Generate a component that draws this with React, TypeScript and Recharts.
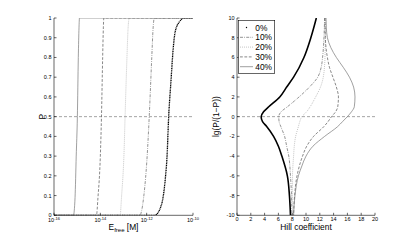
import { Legend, Line, LineChart, ReferenceLine, XAxis, YAxis } from 'recharts'

const FONT = '"Liberation Sans", Arial, Helvetica, sans-serif'
const TICK_LEN = 2.5
const TICK_FONT = 5.5
const LABEL_FONT = 8.4

const seriesNames = ['0%', '10%', '20%', '30%', '40%']

// left panel: fraction P against free enzyme concentration [M]
const eFree0 = [1e-16, 2.24e-12, 3.16e-12, 3.98e-12, 5.01e-12, 6.31e-12, 7.59e-12, 8.91e-12, 1.12e-11, 1.41e-11, 1.7e-11, 2.57e-11, 4.27e-11, 1e-10]
const p0 = [0, 0, 0.015, 0.04, 0.085, 0.18, 0.3, 0.5, 0.68, 0.85, 0.93, 0.98, 1, 1]
const eFree10 = [1e-16, 5e-13, 7.4e-13, 1.1e-12, 1.29e-12, 1.66e-12, 1.9e-12, 2.14e-12, 1e-10]
const p10 = [0, 0, 0.09, 0.34, 0.5, 0.8, 0.95, 1, 1]
const eFree20 = [1e-16, 7.1e-14, 8.3e-14, 1.07e-13, 1.17e-13, 1.41e-13, 1.58e-13, 1.78e-13, 1e-10]
const p20 = [0, 0, 0.1, 0.34, 0.5, 0.8, 0.95, 1, 1]
const eFree30 = [1e-16, 6.8e-15, 7.9e-15, 1e-14, 1.12e-14, 1.26e-14, 1.35e-14, 1.41e-14, 1e-10]
const p30 = [0, 0, 0.09, 0.3, 0.5, 0.8, 0.95, 1, 1]
const eFree40 = [1e-16, 6.9e-16, 8.1e-16, 9.1e-16, 1.02e-15, 1.12e-15, 1.2e-15, 1.26e-15, 1e-10]
const p40 = [0, 0, 0.09, 0.3, 0.5, 0.8, 0.95, 1, 1]

const eTicks = [1e-16, 1e-14, 1e-12, 1e-10]
const pTicks = [0, 0.1, 0.2, 0.3, 0.4, 0.5, 0.6, 0.7, 0.8, 0.9, 1]

// right panel: Hill coefficient against lg(P/(1-P))
const lg0 = [10, 8, 6, 4, 3, 2, 1, 0.5, 0, -0.5, -1, -2, -3, -4, -6, -8, -10]
const hill0 = [11.5, 10.7, 9.7, 8.2, 7.2, 6.2, 4.6, 3.85, 3.5, 3.7, 4.3, 5.3, 6.0, 6.5, 7.3, 7.6, 7.75]
const lg10 = [10, 8, 6, 5, 4, 3, 2, 1, 0.5, 0, -0.5, -1, -2, -3, -4, -6, -8, -10]
const hill10 = [12.7, 12.6, 12.4, 12.2, 11.7, 10.5, 9.0, 7.3, 6.4, 6.05, 6.1, 6.35, 6.9, 7.2, 7.5, 7.75, 7.9, 7.95]
const lg20 = [10, 8, 6, 4, 3, 2, 1, 0.5, 0, -0.5, -1, -2, -3, -4, -6, -8, -10]
const hill20 = [12.85, 12.8, 12.75, 12.5, 12.1, 11.4, 10.6, 10.1, 9.4, 9.1, 8.9, 8.5, 8.3, 8.2, 8.05, 8.05, 8.1]
const lg30 = [10, 8, 6, 5, 4, 3, 2, 1, 0.5, 0, -0.5, -1, -2, -3, -4, -6, -8, -10]
const hill30 = [12.75, 12.8, 13.1, 13.4, 13.9, 14.4, 14.7, 14.6, 14.3, 13.7, 13.2, 12.6, 11.1, 10.1, 9.5, 8.7, 8.35, 8.2]
const lg40 = [10, 9, 8, 7, 6, 5, 4, 3, 2, 1, 0.5, 0, -0.5, -1, -2, -3, -4, -5, -6, -8, -10]
const hill40 = [12.9, 12.95, 13.1, 13.6, 14.4, 15.4, 16.3, 16.9, 17.1, 17.0, 16.6, 16.0, 15.3, 14.6, 12.7, 11.0, 10.0, 9.4, 8.9, 8.4, 8.2]

const hillTicks = [0, 2, 4, 6, 8, 10, 12, 14, 16, 18, 20]
const lgTicks = [-10, -8, -6, -4, -2, 0, 2, 4, 6, 8, 10]

const leftSeries = [
  eFree0.map((e, i) => ({ e, p: p0[i] })),
  eFree10.map((e, i) => ({ e, p: p10[i] })),
  eFree20.map((e, i) => ({ e, p: p20[i] })),
  eFree30.map((e, i) => ({ e, p: p30[i] })),
  eFree40.map((e, i) => ({ e, p: p40[i] })),
]

const rightSeries = [
  lg0.map((lg, i) => ({ lg, hill: hill0[i] })),
  lg10.map((lg, i) => ({ lg, hill: hill10[i] })),
  lg20.map((lg, i) => ({ lg, hill: hill20[i] })),
  lg30.map((lg, i) => ({ lg, hill: hill30[i] })),
  lg40.map((lg, i) => ({ lg, hill: hill40[i] })),
]

// 0% is the heavy dotted/marker curve, the rest are thin matlab line styles
const lineStyles = [
  { stroke: '#000', width: 1.6, dash: undefined as string | undefined },
  { stroke: '#666', width: 0.7, dash: '3 1.2 0.8 1.2' },
  { stroke: '#999', width: 0.7, dash: '0.8 1.2' },
  { stroke: '#555', width: 0.7, dash: '2.8 1.6' },
  { stroke: '#777', width: 0.7, dash: undefined },
]

const AXIS = { stroke: '#000', strokeWidth: 0.6 }

type TickProps = { x?: number; y?: number; payload?: { value: number } }

function ExpTick({ x = 0, y = 0, payload }: TickProps) {
  const exp = Math.round(Math.log10(payload?.value ?? 1))
  return (
    <g>
      <line x1={x} x2={x} y1={y} y2={y - TICK_LEN} {...AXIS} />
      <text x={x} y={y + 6.8} textAnchor="middle" fontSize={TICK_FONT} fontFamily={FONT} fill="#000">
        10<tspan dy={-2.6} fontSize={4}>{`-${-exp}`}</tspan>
      </text>
    </g>
  )
}

function BottomTick({ x = 0, y = 0, payload }: TickProps) {
  return (
    <g>
      <line x1={x} x2={x} y1={y} y2={y - TICK_LEN} {...AXIS} />
      <text x={x} y={y + 5.6} textAnchor="middle" fontSize={TICK_FONT} fontFamily={FONT} fill="#000">
        {String(payload?.value)}
      </text>
    </g>
  )
}

function TopTick({ x = 0, y = 0 }: TickProps) {
  return <line x1={x} x2={x} y1={y} y2={y + TICK_LEN} {...AXIS} />
}

function LeftTick({ x = 0, y = 0, payload }: TickProps) {
  const v = payload?.value ?? 0
  return (
    <g>
      <line x1={x} x2={x + TICK_LEN} y1={y} y2={y} {...AXIS} />
      <text x={x - 2.5} y={y + 2} textAnchor="end" fontSize={TICK_FONT} fontFamily={FONT} fill="#000">
        {String(Number(v.toFixed(1)))}
      </text>
    </g>
  )
}

function RightTick({ x = 0, y = 0 }: TickProps) {
  return <line x1={x} x2={x - TICK_LEN} y1={y} y2={y} {...AXIS} />
}

function EfreeLabel(props: any) {
  const vb = props.viewBox ?? { x: 0, y: 0, width: 0 }
  return (
    <text x={vb.x + vb.width / 2} y={vb.y + 14.5} textAnchor="middle" fontSize={LABEL_FONT} fontFamily={FONT} fill="#000">
      E<tspan fontSize={6} dy={2.2}>free</tspan><tspan dy={-2.2}> [M]</tspan>
    </text>
  )
}

function HillLabel(props: any) {
  const vb = props.viewBox ?? { x: 0, y: 0, width: 0 }
  return (
    <text x={vb.x + vb.width / 2} y={vb.y + 14.5} textAnchor="middle" fontSize={LABEL_FONT} fontFamily={FONT} fill="#000">
      Hill coefficient
    </text>
  )
}

function rotatedLabel(text: string, baseX: number) {
  return function RotLabel(props: any) {
    const vb = props.viewBox ?? { x: 0, y: 0, height: 0 }
    const cy = vb.y + vb.height / 2
    return (
      <text x={baseX} y={cy} transform={`rotate(-90 ${baseX} ${cy})`} textAnchor="middle" fontSize={LABEL_FONT} fontFamily={FONT} fill="#000">
        {text}
      </text>
    )
  }
}

const PLabel = rotatedLabel('P', 45)
const LgLabel = rotatedLabel('lg(P/(1\u2212P))', 19.5)

function LegendBox() {
  return (
    <svg width={37} height={54} style={{ display: 'block' }}>
      <rect x={0.3} y={0.3} width={36.4} height={53} fill="#fff" stroke="#000" strokeWidth={0.6} />
      {seriesNames.map((name, i) => {
        const st = lineStyles[i]
        const cy = 7.5 + i * 9.8
        return (
          <g key={name}>
            {i === 0 ? (
              <circle cx={8.5} cy={cy} r={0.7} fill="#000" />
            ) : (
              <line x1={2} x2={15} y1={cy} y2={cy} stroke={st.stroke} strokeWidth={st.width} strokeDasharray={st.dash} />
            )}
            <text x={17.3} y={cy + 3} fontSize={LABEL_FONT} fontFamily={FONT} fill="#000">
              {name}
            </text>
          </g>
        )
      })}
    </svg>
  )
}

function LeftPanel() {
  return (
    <LineChart width={200} height={243} margin={{ top: 18, right: 7, bottom: 0, left: 0 }}>
      <XAxis
        xAxisId="e"
        dataKey="e"
        type="number"
        scale="log"
        domain={[1e-16, 1e-10]}
        allowDataOverflow
        ticks={eTicks}
        interval={0}
        height={27.7}
        tickSize={0}
        tickMargin={0}
        tickLine={false}
        axisLine={AXIS}
        tick={(p: any) => <ExpTick {...p} />}
        label={{ content: EfreeLabel }}
      />
      <XAxis
        xAxisId="eTop"
        orientation="top"
        type="number"
        scale="log"
        domain={[1e-16, 1e-10]}
        allowDataOverflow
        ticks={eTicks}
        interval={0}
        height={0}
        tickSize={0}
        tickMargin={0}
        tickLine={false}
        axisLine={AXIS}
        tick={(p: any) => <TopTick {...p} />}
      />
      <YAxis
        yAxisId="p"
        type="number"
        domain={[0, 1]}
        allowDataOverflow
        ticks={pTicks}
        interval={0}
        width={54}
        tickSize={0}
        tickMargin={0}
        tickLine={false}
        axisLine={AXIS}
        tick={(p: any) => <LeftTick {...p} />}
        label={{ content: PLabel }}
      />
      <YAxis
        yAxisId="pRight"
        orientation="right"
        type="number"
        domain={[0, 1]}
        allowDataOverflow
        ticks={pTicks}
        interval={0}
        width={0}
        tickSize={0}
        tickMargin={0}
        tickLine={false}
        axisLine={AXIS}
        tick={(p: any) => <RightTick {...p} />}
      />
      <ReferenceLine xAxisId="e" yAxisId="p" y={0.5} stroke="#666" strokeWidth={0.6} strokeDasharray="3 2" />
      {leftSeries.map((data, i) => (
        <Line
          key={seriesNames[i]}
          name={seriesNames[i]}
          xAxisId="e"
          yAxisId="p"
          data={data}
          dataKey="p"
          type="monotoneX"
          stroke={lineStyles[i].stroke}
          strokeWidth={i === 0 ? 1.3 : lineStyles[i].width}
          strokeDasharray={i === 0 ? '1.1 0.6' : lineStyles[i].dash}
          dot={false}
          activeDot={false}
          isAnimationActive={false}
        />
      ))}
    </LineChart>
  )
}

function RightPanel() {
  return (
    <LineChart width={215} height={243} margin={{ top: 18, right: 40, bottom: 0, left: 0 }}>
      <XAxis
        xAxisId="h"
        dataKey="hill"
        type="number"
        domain={[0, 20]}
        allowDataOverflow
        ticks={hillTicks}
        interval={0}
        height={27.7}
        tickSize={0}
        tickMargin={0}
        tickLine={false}
        axisLine={AXIS}
        tick={(p: any) => <BottomTick {...p} />}
        label={{ content: HillLabel }}
      />
      <XAxis
        xAxisId="hTop"
        orientation="top"
        type="number"
        domain={[0, 20]}
        allowDataOverflow
        ticks={hillTicks}
        interval={0}
        height={0}
        tickSize={0}
        tickMargin={0}
        tickLine={false}
        axisLine={AXIS}
        tick={(p: any) => <TopTick {...p} />}
      />
      <YAxis
        yAxisId="lg"
        type="number"
        domain={[-10, 10]}
        allowDataOverflow
        ticks={lgTicks}
        interval={0}
        width={37}
        tickSize={0}
        tickMargin={0}
        tickLine={false}
        axisLine={AXIS}
        tick={(p: any) => <LeftTick {...p} />}
        label={{ content: LgLabel }}
      />
      <YAxis
        yAxisId="lgRight"
        orientation="right"
        type="number"
        domain={[-10, 10]}
        allowDataOverflow
        ticks={lgTicks}
        interval={0}
        width={0}
        tickSize={0}
        tickMargin={0}
        tickLine={false}
        axisLine={AXIS}
        tick={(p: any) => <RightTick {...p} />}
      />
      <ReferenceLine xAxisId="h" yAxisId="lg" y={0} stroke="#666" strokeWidth={0.6} strokeDasharray="3 2" />
      {rightSeries.map((data, i) => (
        <Line
          key={seriesNames[i]}
          name={seriesNames[i]}
          xAxisId="h"
          yAxisId="lg"
          data={data}
          dataKey="lg"
          type="monotoneY"
          stroke={lineStyles[i].stroke}
          strokeWidth={lineStyles[i].width}
          strokeDasharray={lineStyles[i].dash}
          dot={false}
          activeDot={false}
          isAnimationActive={false}
        />
      ))}
      <Legend
        layout="vertical"
        align="center"
        verticalAlign="middle"
        content={() => <LegendBox />}
        wrapperStyle={{ left: 38, top: 20, width: 37, height: 54 }}
      />
    </LineChart>
  )
}

export default function App() {
  return (
    <div style={{ position: 'absolute', left: 0, top: 0, width: 415, height: 243, background: '#fff', fontFamily: FONT }}>
      <div style={{ position: 'absolute', left: 0, top: 0 }}>
        <LeftPanel />
      </div>
      <div style={{ position: 'absolute', left: 200, top: 0 }}>
        <RightPanel />
      </div>
    </div>
  )
}
